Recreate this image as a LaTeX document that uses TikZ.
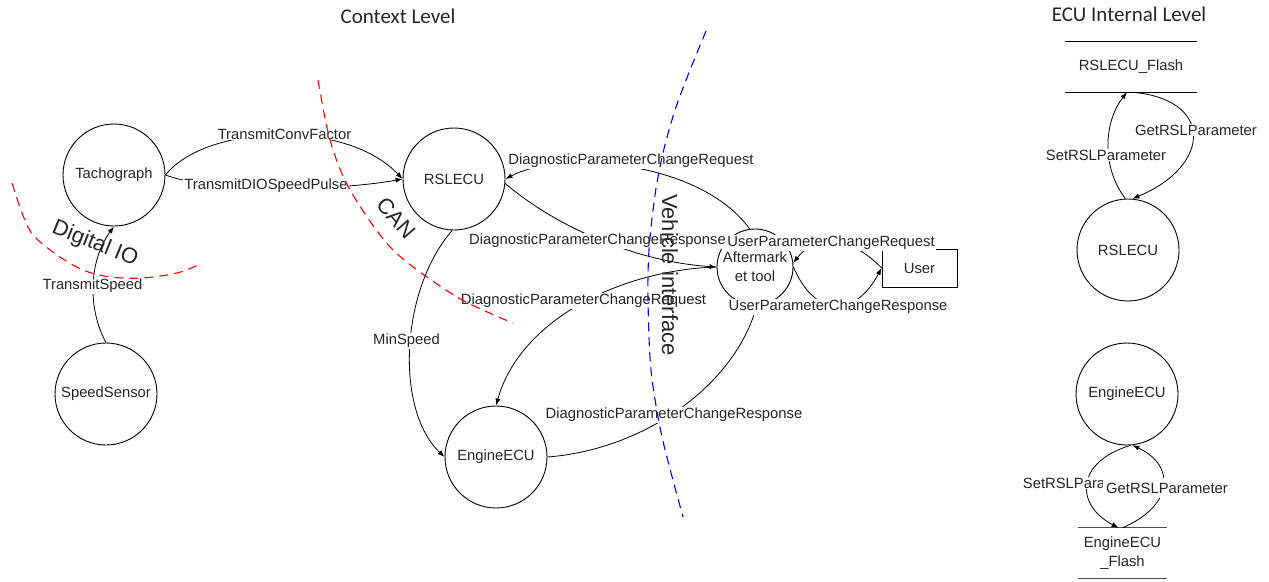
\documentclass[tikz,border=0pt]{standalone}
\usepackage{fontspec}
\setmainfont{Liberation Sans}
\newfontfamily\titlefont{Carlito}
\usetikzlibrary{arrows.meta}
\begin{document}
\begin{tikzpicture}[x=1pt,y=-1pt,
  every node/.style={font=\fontsize{14.8}{19}\selectfont, text=black!85},
  proc/.style={draw, circle, minimum size=102pt, inner sep=0pt, line width=0.9pt},
  conn/.style={line width=0.8pt, -{Latex[length=7pt,width=5pt]}},
  lbl/.style={fill=white, inner xsep=1pt, inner ysep=1pt},
  bound/.style={dash pattern=on 9pt off 6pt, line width=1.1pt},
  boundtxt/.style={font=\fontsize{22}{26}\selectfont},
  title/.style={font=\titlefont\fontsize{21}{25}\selectfont}]
\useasboundingbox (0,0) rectangle (1269,581);
\fill[white] (0,0) rectangle (1269,581);

% titles
\node[title] (t1) at (398,16) {Context Level};
\node[title] (t2) at (1129,14) {ECU Internal Level};

% processes
\node[proc] (tacho) at (114,175) {Tachograph};
\node[proc] (speed) at (106,394) {SpeedSensor};
\node[proc] (rsl) at (454,179) {RSLECU};
\node[proc] (eng) at (496,457) {EngineECU};
\node[proc, minimum size=76pt, align=center] (aft) at (755,267) {Aftermark\\et tool};
\node[draw, line width=0.9pt, minimum width=75pt, minimum height=38pt] (user) at (919.5,268) {User};

\node[minimum width=132pt, minimum height=50pt] (rflash) at (1131,67) {RSLECU\_Flash};
\draw[line width=1pt] (rflash.north west) -- (rflash.north east) (rflash.south west) -- (rflash.south east);
\node[proc] (rsl2) at (1128,250) {RSLECU};
\node[proc] (eng2) at (1127,394) {EngineECU};
\node[minimum width=89pt, minimum height=50pt, align=center] (eflash) at (1122.5,553) {EngineECU\\\_Flash};
\draw[line width=1pt, black!70] (eflash.north west) -- (eflash.north east) (eflash.south west) -- (eflash.south east);

% connectors
\draw[conn] (speed.north) .. controls (88,310) and (88,262) .. (tacho.south);
\draw[conn] (tacho.east) .. controls (205,125) and (345,118) .. (rsl.west);
\draw[conn] (tacho.east) .. controls (210,192) and (330,192) .. (rsl.west);
\draw[conn] (rsl.-92) .. controls (400,290) and (395,410) .. (eng.west);
\draw[conn] (aft.98) .. controls (700,160) and (560,150) .. (rsl.east);
\draw[conn] (rsl.-5) .. controls (560,230) and (640,262) .. (aft.west);
\draw[conn] (aft.west) .. controls (620,270) and (520,320) .. (eng.north);
\draw[conn] (eng.east) .. controls (640,450) and (730,390) .. (aft.-87);
\draw[conn] (user.west) .. controls (850,235) and (815,235) .. (aft.6);
\draw[conn] (aft.east) .. controls (815,318) and (855,318) .. (user.west);

\draw[conn] (rsl2.93) .. controls (1100,165) and (1105,120) .. ([xshift=-4pt]rflash.south);
\draw[conn] (rflash.south) .. controls (1213,98) and (1213,165) .. (rsl2.85);
\draw[conn] (eng2.-86) .. controls (1075,462) and (1075,505) .. ([xshift=-4pt]eflash.north);
\draw[conn] (eflash.north) .. controls (1175,505) and (1175,465) .. (eng2.-84);

% labels
\node[lbl] (l1) at (284.5,134) {TransmitConvFactor};
\node[lbl] (l2) at (266,186) {TransmitDIOSpeedPulse};
\node[lbl] (l3) at (92.5,286) {TransmitSpeed};
\node[lbl] (l4) at (406.5,341) {MinSpeed};
\node[lbl] (l5) at (631,161) {DiagnosticParameterChangeRequest};
\node[lbl] (l6) at (597.5,241) {DiagnosticParameterChangeResponse};
\node[lbl] (l7) at (583.5,301) {DiagnosticParameterChangeRequest};
\node[lbl] (l8) at (674,415) {DiagnosticParameterChangeResponse};
\node[lbl] (l9) at (831,243) {UserParameterChangeRequest};
\node[lbl] (l10) at (838,307) {UserParameterChangeResponse};
\node[lbl] (l11) at (1106,155) {SetRSLParameter};
\node[lbl] (l12) at (1196,130) {GetRSLParameter};
\node[lbl] (l13) at (1083,483) {SetRSLParameter};
\node[lbl, inner xsep=3pt, inner ysep=5pt] (l14) at (1167,488) {GetRSLParameter};

% boundaries
\draw[bound, red] plot[smooth] coordinates {(12,183) (22,213) (33,235) (57,255) (83,270) (110,277) (143,278) (177,273) (198,265)};
\draw[bound, red] plot[smooth] coordinates {(318,80) (330,140) (350,190) (393,250) (457,297) (513,323)};
\draw[bound, blue] plot[smooth] coordinates {(706,31) (690,70) (675,110) (663,153) (655,195) (649,250) (648,300) (651,370) (662,437) (683,517)};
\node[boundtxt, rotate=-22] (dio) at (95,244) {Digital IO};
\node[boundtxt, rotate=-49] (can) at (396,218) {CAN};
\node[boundtxt, rotate=-90] (vi) at (670,275) {Vehicle interface};
\end{tikzpicture}
\end{document}
